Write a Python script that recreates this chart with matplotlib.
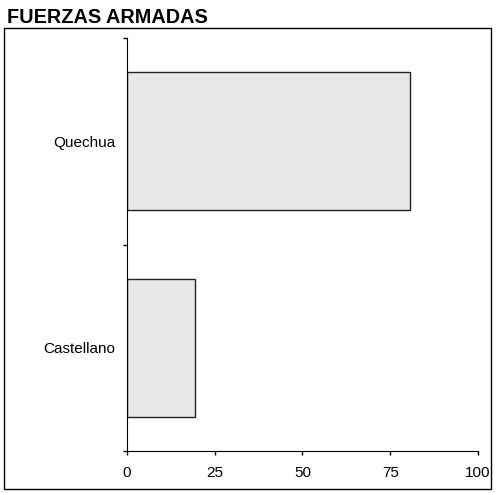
import matplotlib
matplotlib.use("Agg")
import matplotlib.pyplot as plt
from matplotlib.patches import Rectangle

plt.rcParams['font.family'] = ['Liberation Sans', 'DejaVu Sans']

categories = ["Castellano", "Quechua"]
values = [19.4, 80.6]
xticks = [0, 25, 50, 75, 100]

fig = plt.figure(figsize=(4.97, 4.93), dpi=100)

# outer frame
fig.patches.append(Rectangle((0.009, 0.008), 0.979, 0.935, transform=fig.transFigure,
                             fill=False, edgecolor='black', linewidth=1))
fig.text(0.015, 0.964, "FUERZAS ARMADAS", fontsize=14.3, fontweight='bold', va='center', ha='left')

ax = fig.add_axes([0.2555, 0.0852, 0.7062, 0.8377])
pos = [0.5, 1.5]
ax.barh(pos, values, height=0.67, color='#e8e8e8', edgecolor='#222222', linewidth=1)

ax.set_xlim(0, 100)
ax.set_ylim(0, 2)
ax.set_xticks(xticks)
ax.set_xticklabels([str(t) for t in xticks], fontsize=11)

ax.set_yticks([0, 1, 2])
ax.set_yticklabels([])
ax.set_yticks(pos, minor=True)
ax.set_yticklabels(categories, minor=True, fontsize=11)
ax.tick_params(axis='y', which='minor', length=0, pad=8.3)
ax.tick_params(axis='y', which='major', length=3, width=1)
ax.tick_params(axis='x', length=3, width=1, pad=8)

ax.spines['top'].set_visible(False)
ax.spines['right'].set_visible(False)

fig.savefig("out.png", dpi=100)
